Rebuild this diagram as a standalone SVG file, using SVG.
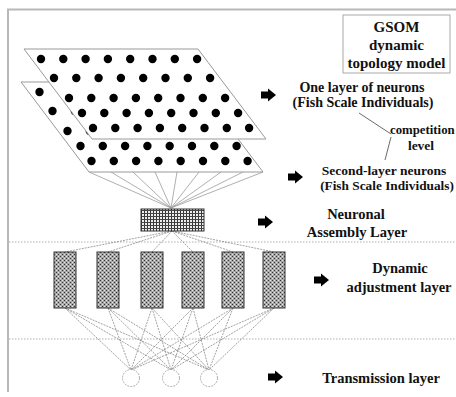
<svg xmlns="http://www.w3.org/2000/svg" width="456" height="397" viewBox="0 0 456 397">
  <defs>
    <style>
      .lbl { font-family: "Liberation Serif", "Times New Roman", serif; font-weight: bold; fill: #111; }
      .plane { fill: #fff; stroke: #999; stroke-width: 1; }
      .dot { fill: #000; }
      .wire { stroke: #9a9a9a; stroke-width: 0.8; fill: none; }
      .wire2 { stroke: #8a8a8a; stroke-width: 0.8; fill: none; stroke-dasharray: 2 1; }
      .sep { stroke: #b0b0b0; stroke-width: 1; stroke-dasharray: 1.5 1.5; }
      .frame { stroke: #b8b8b8; stroke-width: 2; fill: none; }
      .col { fill: url(#stipple); stroke: #333; stroke-width: 1; }
      .out { fill: #fff; stroke: #999; stroke-width: 0.8; stroke-dasharray: 2 1; }
    </style>
    <!-- stippled fill of the adjustment columns -->
    <pattern id="stipple" width="4" height="4" patternUnits="userSpaceOnUse">
      <rect width="4" height="4" fill="#a6a6a6"/>
      <rect x="0" y="0" width="1" height="1" fill="#333"/>
      <rect x="2" y="2" width="1" height="1" fill="#333"/>
      <rect x="2" y="0" width="1" height="1" fill="#e6e6e6"/>
      <rect x="0" y="2" width="1" height="1" fill="#e6e6e6"/>
    </pattern>
    <!-- cross-hatch fill of the assembly block -->
    <pattern id="hatch" width="3" height="3" patternUnits="userSpaceOnUse">
      <rect width="3" height="3" fill="#eee"/>
      <rect x="0" y="0" width="1" height="3" fill="#333"/>
      <rect x="0" y="0" width="3" height="1" fill="#444"/>
    </pattern>
    <!-- block arrow pointing right, origin at left-centre -->
    <path id="blk" d="M0,-3.5 H7 V-6.5 L15,0 L7,6.5 V3.5 H0 Z" fill="#000"/>
    <!-- one row of eight neurons -->
    <g id="row8">
      <circle class="dot" cx="0" cy="0" r="4.2"/>
      <circle class="dot" cx="22.3" cy="0" r="4.2"/>
      <circle class="dot" cx="44.6" cy="0" r="4.2"/>
      <circle class="dot" cx="66.9" cy="0" r="4.2"/>
      <circle class="dot" cx="89.2" cy="0" r="4.2"/>
      <circle class="dot" cx="111.5" cy="0" r="4.2"/>
      <circle class="dot" cx="133.8" cy="0" r="4.2"/>
      <circle class="dot" cx="156.1" cy="0" r="4.2"/>
    </g>
    <g id="sheet">
      <use href="#row8" x="41" y="59"/>
      <use href="#row8" x="54" y="78"/>
      <use href="#row8" x="69" y="98"/>
      <use href="#row8" x="82" y="113"/>
      <use href="#row8" x="93" y="128"/>
    </g>
  </defs>

  <rect width="456" height="397" fill="#fff"/>

  <!-- outer frame -->
  <path class="frame" d="M8,392 V9.5 H456"/>

  <!-- layer separators -->
  <line class="sep" x1="9" y1="242" x2="456" y2="242"/>
  <line class="sep" x1="9" y1="339" x2="456" y2="339"/>

  <!-- connectors -->
  <g id="connectors">
    <!-- second neuron sheet to assembly block -->
    <g class="wire">
      <line x1="89" y1="172" x2="171" y2="208"/>
      <line x1="111" y1="172" x2="171" y2="208"/>
      <line x1="133" y1="172" x2="171" y2="208"/>
      <line x1="155" y1="172" x2="171" y2="208"/>
      <line x1="177" y1="172" x2="171" y2="208"/>
      <line x1="199" y1="172" x2="171" y2="208"/>
      <line x1="221" y1="172" x2="171" y2="208"/>
      <line x1="243" y1="172" x2="171" y2="208"/>
      <line x1="263" y1="172" x2="171" y2="208"/>
    </g>
    <!-- assembly block to adjustment columns -->
    <g class="wire2">
      <line x1="172" y1="231" x2="65" y2="252"/>
      <line x1="172" y1="231" x2="108" y2="252"/>
      <line x1="172" y1="231" x2="152" y2="252"/>
      <line x1="172" y1="231" x2="193" y2="252"/>
      <line x1="172" y1="231" x2="233" y2="252"/>
      <line x1="172" y1="231" x2="274" y2="252"/>
    </g>
    <!-- adjustment columns to transmission units -->
    <g class="wire2">
      <line x1="65" y1="308" x2="131" y2="370"/>
      <line x1="65" y1="308" x2="171" y2="370"/>
      <line x1="65" y1="308" x2="209" y2="370"/>
      <line x1="108" y1="308" x2="131" y2="370"/>
      <line x1="108" y1="308" x2="171" y2="370"/>
      <line x1="108" y1="308" x2="209" y2="370"/>
      <line x1="152" y1="308" x2="131" y2="370"/>
      <line x1="152" y1="308" x2="171" y2="370"/>
      <line x1="152" y1="308" x2="209" y2="370"/>
      <line x1="193" y1="308" x2="131" y2="370"/>
      <line x1="193" y1="308" x2="171" y2="370"/>
      <line x1="193" y1="308" x2="209" y2="370"/>
      <line x1="233" y1="308" x2="131" y2="370"/>
      <line x1="233" y1="308" x2="171" y2="370"/>
      <line x1="233" y1="308" x2="209" y2="370"/>
      <line x1="274" y1="308" x2="131" y2="370"/>
      <line x1="274" y1="308" x2="171" y2="370"/>
      <line x1="274" y1="308" x2="209" y2="370"/>
    </g>
    <!-- competition bracket -->
    <g stroke="#444" stroke-width="0.8" fill="none">
      <line x1="359" y1="113" x2="391" y2="134"/>
      <line x1="391" y1="137" x2="385" y2="160"/>
    </g>
  </g>

  <!-- second neuron sheet -->
  <g id="sheet2">
    <polygon class="plane" points="21,82 195,82 263,172 89,172"/>
    <use href="#sheet" x="-1.5" y="33"/>
  </g>

  <!-- first neuron sheet -->
  <g id="sheet1">
    <polygon class="plane" points="24,49 198,49 266,139 92,139"/>
    <use href="#sheet"/>
  </g>

  <!-- neuronal assembly block -->
  <g id="assembly">
    <rect x="141" y="209" width="63" height="22" fill="url(#hatch)" stroke="#333" stroke-width="1"/>
  </g>

  <!-- dynamic adjustment columns -->
  <g id="adjust1"><rect class="col" x="54" y="252" width="22" height="56"/></g>
  <g id="adjust2"><rect class="col" x="97" y="252" width="22" height="56"/></g>
  <g id="adjust3"><rect class="col" x="141" y="252" width="22" height="56"/></g>
  <g id="adjust4"><rect class="col" x="182" y="252" width="22" height="56"/></g>
  <g id="adjust5"><rect class="col" x="222" y="252" width="22" height="56"/></g>
  <g id="adjust6"><rect class="col" x="263" y="252" width="22" height="56"/></g>

  <!-- transmission units -->
  <g id="trans1"><circle class="out" cx="131" cy="378" r="8.5"/></g>
  <g id="trans2"><circle class="out" cx="171" cy="378" r="8.5"/></g>
  <g id="trans3"><circle class="out" cx="209" cy="378" r="8.5"/></g>

  <!-- title box -->
  <g id="title">
    <rect x="343" y="15" width="107" height="58" fill="#fff" stroke="#aaa" stroke-width="1"/>
    <text class="lbl" x="396.5" y="32" font-size="15" text-anchor="middle">GSOM</text>
    <text class="lbl" x="396.5" y="50" font-size="15" text-anchor="middle">dynamic</text>
    <text class="lbl" x="396.5" y="68" font-size="15" text-anchor="middle">topology model</text>
  </g>

  <!-- layer labels with arrows -->
  <g id="label1">
    <use href="#blk" x="261" y="95"/>
    <text class="lbl" x="362" y="92" font-size="14" text-anchor="middle">One layer of neurons</text>
    <text class="lbl" x="363" y="107" font-size="14" text-anchor="middle">(Fish Scale Individuals)</text>
  </g>
  <g id="competition">
    <text class="lbl" x="390" y="134" font-size="12.8">competition</text>
    <text class="lbl" x="421" y="150" font-size="13.5" text-anchor="middle">level</text>
  </g>
  <g id="label2">
    <use href="#blk" x="288" y="177"/>
    <text class="lbl" x="384" y="175" font-size="13.5" text-anchor="middle">Second-layer neurons</text>
    <text class="lbl" x="387" y="190" font-size="13.3" text-anchor="middle">(Fish Scale Individuals)</text>
  </g>
  <g id="label3">
    <use href="#blk" x="258" y="222"/>
    <text class="lbl" x="356" y="219" font-size="14.5" text-anchor="middle">Neuronal</text>
    <text class="lbl" x="357" y="237" font-size="14.5" text-anchor="middle">Assembly Layer</text>
  </g>
  <g id="label4">
    <use href="#blk" x="314" y="280"/>
    <text class="lbl" x="400" y="273" font-size="14.5" text-anchor="middle">Dynamic</text>
    <text class="lbl" x="399" y="292" font-size="14.5" text-anchor="middle">adjustment layer</text>
  </g>
  <g id="label5">
    <use href="#blk" x="268" y="377"/>
    <text class="lbl" x="381" y="383" font-size="14.5" text-anchor="middle">Transmission layer</text>
  </g>
</svg>
